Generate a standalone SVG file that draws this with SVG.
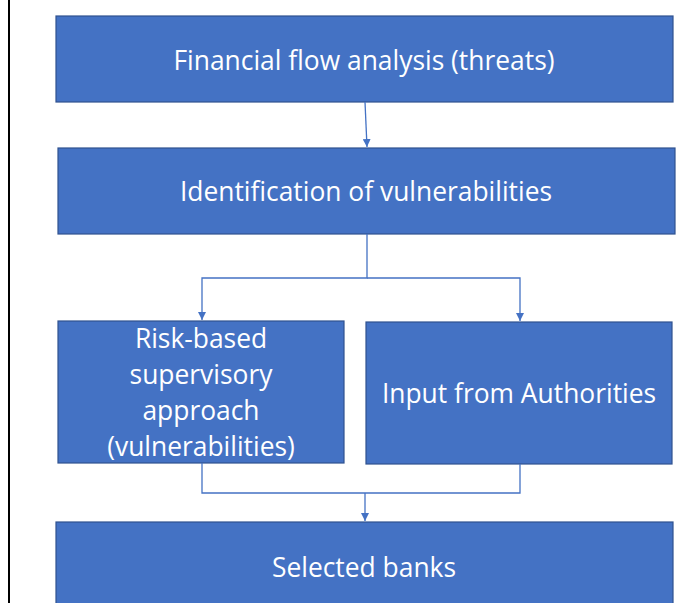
<svg xmlns="http://www.w3.org/2000/svg" width="696" height="603" viewBox="0 0 696 603">
<defs>
<style>
.box{fill:#4472C4;stroke:#2F528F;stroke-width:1.2}
.t{fill:#fff;font-family:"Open Sans","Liberation Sans",sans-serif;font-size:26.4px;text-anchor:middle}
.c{fill:none;stroke:#4472C4;stroke-width:1.3}
</style>
<marker id="ah" viewBox="0 0 10 10" refX="10" refY="5" markerWidth="8" markerHeight="8" markerUnits="userSpaceOnUse" orient="auto">
<path d="M0,0 L10,5 L0,10 z" fill="#4472C4"/>
</marker>
</defs>
<rect width="696" height="603" fill="#fff"/>
<line x1="9" y1="0" x2="9" y2="603" stroke="#000" stroke-width="2"/>
<g id="n1"><rect class="box" x="56" y="16" width="617" height="86"/><text class="t" x="364" y="70">Financial flow analysis (threats)</text></g>
<g id="n2"><rect class="box" x="58" y="148" width="617" height="86"/><text class="t" x="366" y="201">Identification of vulnerabilities</text></g>
<g id="n3"><rect class="box" x="58" y="321" width="286" height="142"/><text class="t" x="201" y="348">Risk-based</text><text class="t" x="201" y="384">supervisory</text><text class="t" x="201" y="420">approach</text><text class="t" x="201" y="456">(vulnerabilities)</text></g>
<g id="n4"><rect class="box" x="366" y="322" width="306" height="142"/><text class="t" x="519" y="403">Input from Authorities</text></g>
<g id="n5"><rect class="box" x="56" y="522" width="617" height="90"/><text class="t" x="364" y="577">Selected banks</text></g>
<g id="connectors">
<path class="c" d="M365,102 L367,147" marker-end="url(#ah)"/>
<path class="c" d="M367,234 V278 H202 V320" marker-end="url(#ah)"/>
<path class="c" d="M367,278 H520 V321" marker-end="url(#ah)"/>
<path class="c" d="M202,463 V493 H520 V464"/>
<path class="c" d="M365,493 V521" marker-end="url(#ah)"/>
</g>
</svg>
